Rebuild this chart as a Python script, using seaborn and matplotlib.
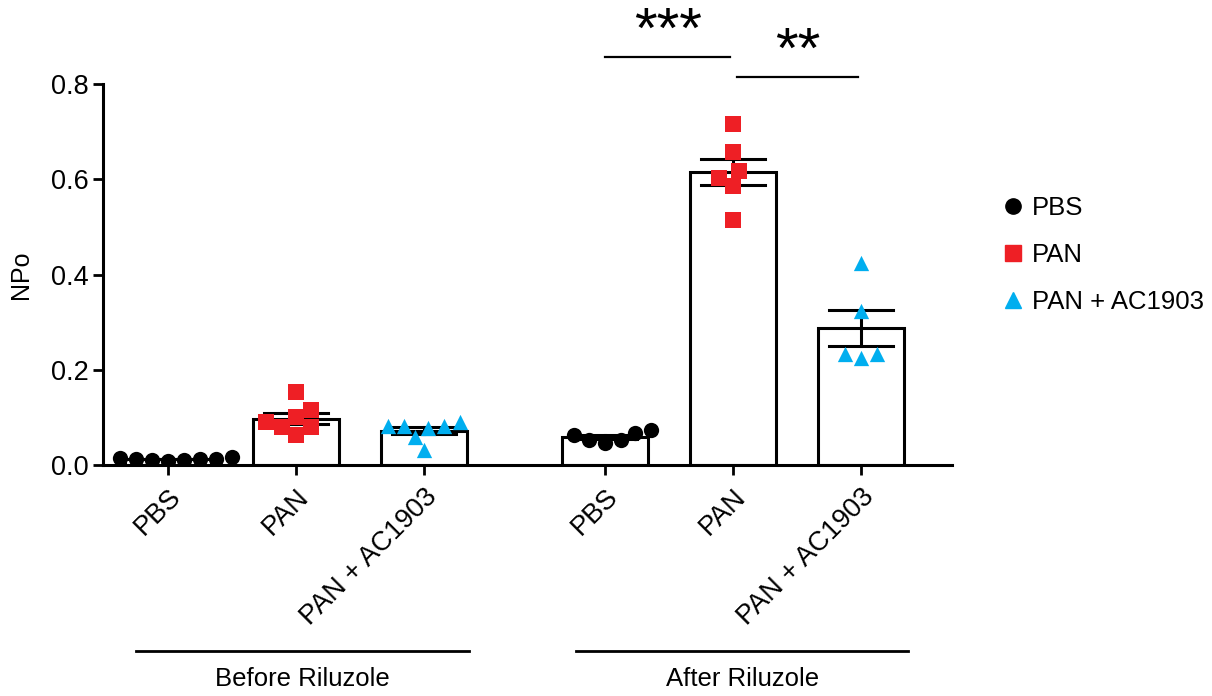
import pandas as pd
import matplotlib.pyplot as plt
import matplotlib.transforms as mtransforms
from matplotlib.lines import Line2D
import seaborn as sns

# NPo values per condition
before_pbs = [0.017, 0.013, 0.011, 0.009, 0.010, 0.012, 0.013, 0.014]
before_pan = [0.153, 0.115, 0.101, 0.090, 0.080, 0.080, 0.063]
before_ac = [0.090, 0.078, 0.082, 0.082, 0.059, 0.082, 0.032]
after_pbs = [0.052, 0.067, 0.046, 0.052, 0.073, 0.063]
after_pan = [0.716, 0.657, 0.603, 0.617, 0.586, 0.514]
after_ac = [0.424, 0.323, 0.233, 0.225, 0.233]

treatments = ["PBS", "PAN", "PAN + AC1903"]
periods = ["Before Riluzole", "After Riluzole"]
tick_labels = treatments + treatments
colors = {"PBS": "black", "PAN": "#ee1f25", "PAN + AC1903": "#00aeef"}
markers = {"PBS": "o", "PAN": "s", "PAN + AC1903": "^"}
sizes = {"PBS": 11, "PAN": 11.5, "PAN + AC1903": 11}

groups = [before_pbs, before_pan, before_ac, after_pbs, after_pan, after_ac]
gap = 1.414
positions = [0, 1, 2, 2 + gap, 3 + gap, 4 + gap]

rows = []
for i, vals in enumerate(groups):
    for v in vals:
        rows.append({"pos": positions[i], "NPo": v,
                     "treatment": treatments[i % 3]})
df = pd.DataFrame(rows)

plt.rcParams["font.family"] = ["Liberation Sans", "DejaVu Sans"]

fig = plt.figure(figsize=(12.12, 6.96), dpi=100)
ax = fig.add_axes([0.085, 0.332, 0.7005, 0.547])

sns.barplot(data=df, x="pos", y="NPo", native_scale=True, width=0.67,
            color="white", edgecolor="black", linewidth=2.2,
            errorbar="se", capsize=0.5,
            err_kws={"color": "black", "linewidth": 2.2}, ax=ax)

for t in treatments:
    sub = df[df["treatment"] == t]
    sns.swarmplot(data=sub, x="pos", y="NPo", native_scale=True,
                  marker=markers[t], color=colors[t], size=sizes[t],
                  linewidth=0, ax=ax, zorder=3)

ax.set_xlim(-0.508, 6.125)
ax.set_ylim(0, 0.8)
ax.set_yticks([0, 0.2, 0.4, 0.6, 0.8])
ax.set_yticklabels(["0.0", "0.2", "0.4", "0.6", "0.8"])
ax.set_xticks(positions)
ax.set_xticklabels(tick_labels, rotation=45, ha="right",
                   rotation_mode="anchor")
ax.set_xlabel("")
ax.set_ylabel("NPo", fontsize=18, labelpad=13)
ax.tick_params(axis="both", width=2, length=7.5, labelsize=19.5, color="black")
ax.tick_params(axis="x", pad=6)
ax.tick_params(axis="y", pad=3)
sns.despine(ax=ax)
for s in ["left", "bottom"]:
    ax.spines[s].set_linewidth(2.2)

# group labels under the x axis
trans = mtransforms.blended_transform_factory(ax.transData, ax.transAxes)
for (x0, x1), name in zip([(-0.25, 2.35), (3.19, 5.78)], periods):
    ax.plot([x0, x1], [-0.488, -0.488], color="black", lw=2,
            transform=trans, clip_on=False)
    ax.text((x0 + x1) / 2, -0.53, name, transform=trans, ha="center",
            va="top", fontsize=18.5)

# significance
sig = [(positions[3], positions[4] - 0.02, 0.857, "***"),
       (positions[4] + 0.03, positions[5] - 0.02, 0.815, "**")]
for x0, x1, y, label in sig:
    ax.plot([x0, x1], [y, y], color="black", lw=1.6, clip_on=False)
    ax.text((x0 + x1) / 2, y + 0.019, label, ha="center", va="baseline",
            fontsize=42)

handles = [Line2D([], [], marker=markers[t], color=colors[t], ls="",
                  markersize=11) for t in treatments]
fig.legend(handles, treatments, loc="center left",
           bbox_to_anchor=(0.806, 0.634), frameon=False, fontsize=18.5,
           handlelength=1.0, handletextpad=0.25, labelspacing=0.9)

fig.savefig("out.png", dpi=100)
